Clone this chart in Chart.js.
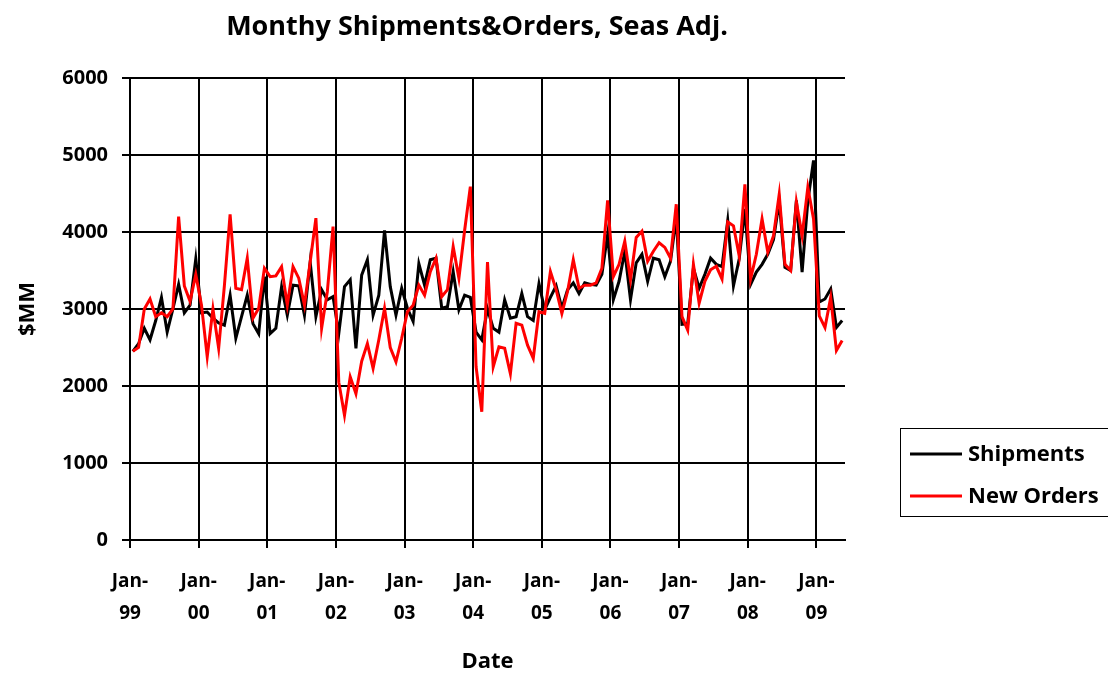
<!DOCTYPE html>
<html><head><meta charset="utf-8">
<script src="https://cdn.jsdelivr.net/npm/chart.js@4.4.1/dist/chart.umd.min.js"></script>
<style>html,body{margin:0;padding:0;background:#fff}#wrap{width:1108px;height:675px;position:relative}</style>
</head><body><div id="wrap"><canvas id="c" width="1108" height="675"></canvas></div>
<script>
const chartTitle = 'Monthy Shipments&Orders, Seas Adj.';
const seriesNames = ['Shipments', 'New Orders'];
const seriesColors = ['#000000', '#ff0000'];
// x tick labels, one per January (Jan-99 .. Jan-09)
const xTickLabels = ['Jan-99','Jan-00','Jan-01','Jan-02','Jan-03','Jan-04','Jan-05','Jan-06','Jan-07','Jan-08','Jan-09'];
const yTickValues = [0, 1000, 2000, 3000, 4000, 5000, 6000];
// monthly values Jan-99 .. May-09
const shipments = [
 2450,2550,2750,2600,2850,3150,2700,3000,3320,2950,3050,3650,
 2950,2960,2880,2820,2790,3180,2620,2900,3180,2810,2680,3420,
 2680,2750,3290,2920,3310,3300,2920,3610,2900,3250,3120,3160,
 2680,3290,3380,2490,3440,3640,2920,3180,4020,3290,2920,3270,
 3010,2840,3590,3310,3640,3660,3010,3030,3485,2990,3180,3150,
 2700,2600,3000,2750,2700,3120,2880,2900,3200,2900,2850,3330,
 2990,3150,3300,3010,3250,3340,3200,3340,3320,3310,3450,3970,
 3120,3360,3750,3120,3600,3710,3360,3660,3640,3420,3620,4200,
 2800,2810,3530,3270,3450,3660,3580,3550,4150,3300,3650,4300,
 3320,3480,3580,3710,3900,4400,3540,3500,4410,3480,4400,4930,
 3090,3130,3260,2760,2850
];
const newOrders = [
 2450,2500,3000,3130,2900,2950,2900,3000,4200,3300,3100,3450,
 3050,2380,3000,2490,3300,4230,3270,3250,3660,2880,3010,3530,
 3420,3430,3550,3050,3550,3400,3050,3610,4180,2750,3225,4070,
 2050,1620,2120,1900,2320,2550,2230,2600,3010,2500,2315,2620,
 2965,3050,3310,3180,3485,3660,3160,3250,3810,3400,4020,4590,
 2250,1665,3610,2250,2510,2490,2160,2815,2790,2530,2360,2965,
 2945,3485,3250,2940,3230,3640,3270,3310,3310,3340,3530,4410,
 3420,3580,3880,3380,3930,4010,3620,3750,3860,3800,3660,4360,
 2900,2725,3580,3075,3360,3510,3555,3390,4130,4080,3690,4620,
 3390,3710,4170,3740,3950,4490,3580,3500,4390,3950,4580,4170,
 2910,2760,3150,2460,2590
];

const FONT = '"Open Sans", "Liberation Sans", sans-serif';

const toPoints = arr => arr.map((v, i) => ({x: i, y: v}));

const decorPlugin = {
  id: 'decor',
  afterDraw(chart) {
    const ctx = chart.ctx;
    ctx.save();
    // title
    ctx.fillStyle = '#000';
    ctx.font = 'bold 27px ' + FONT;
    ctx.textAlign = 'center';
    ctx.textBaseline = 'middle';
    ctx.fillText(chartTitle, 477, 27);
    // legend box
    ctx.strokeStyle = '#000';
    ctx.lineWidth = 1;
    ctx.strokeRect(900.5, 428.5, 215, 88);
    const ys = [454, 496];
    ctx.textAlign = 'left';
    ctx.font = 'bold 22px ' + FONT;
    seriesNames.forEach((name, i) => {
      ctx.strokeStyle = seriesColors[i];
      ctx.lineWidth = 3;
      ctx.beginPath();
      ctx.moveTo(910, ys[i]);
      ctx.lineTo(962, ys[i]);
      ctx.stroke();
      ctx.fillStyle = '#000';
      ctx.fillText(name, 968, ys[i] + 1);
    });
    ctx.restore();
  }
};

new Chart(document.getElementById('c'), {
  type: 'line',
  data: {
    datasets: [
      {label: seriesNames[0], data: toPoints(shipments), borderColor: seriesColors[0], borderWidth: 3, pointRadius: 0, tension: 0, order: 1},
      {label: seriesNames[1], data: toPoints(newOrders), borderColor: seriesColors[1], borderWidth: 3, pointRadius: 0, tension: 0, order: 0}
    ]
  },
  options: {
    responsive: false,
    animation: false,
    layout: {padding: {left: 0, right: 263, top: 78, bottom: 0}},
    plugins: {legend: {display: false}, title: {display: false}, tooltip: {enabled: false}},
    scales: {
      x: {
        type: 'linear',
        min: -0.5,
        max: shipments.length - 0.5,
        afterBuildTicks: s => { s.ticks = xTickLabels.map((l, i) => ({value: i * 12 - 0.5})); },
        afterFit: s => { s.height = 135; },
        ticks: {
          autoSkip: false, maxRotation: 0, color: '#000', padding: 18,
          font: {family: FONT, size: 19, weight: 'bold', lineHeight: 1.68},
          callback: (v, i) => { const l = xTickLabels[i]; return [l.slice(0, 4), l.slice(4)]; }
        },
        grid: {color: '#000', lineWidth: 2, tickLength: 8, drawTicks: true},
        border: {color: '#000', width: 2},
        title: {display: true, text: 'Date', color: '#000', font: {family: FONT, size: 22, weight: 'bold'}, padding: {top: 0, bottom: 0}}
      },
      y: {
        min: 0, max: 6000,
        afterBuildTicks: s => { s.ticks = yTickValues.map(v => ({value: v})); },
        afterFit: s => { s.width = 130; },
        ticks: {color: '#000', padding: 14, font: {family: FONT, size: 20, weight: 'bold'}, callback: v => String(v)},
        grid: {color: '#000', lineWidth: 2, tickLength: 8},
        border: {color: '#000', width: 2},
        title: {display: true, text: '$MM', color: '#000', font: {family: FONT, size: 22, weight: 'bold'}, padding: {top: 15, bottom: 0}}
      }
    }
  },
  plugins: [decorPlugin]
});
</script></body></html>
